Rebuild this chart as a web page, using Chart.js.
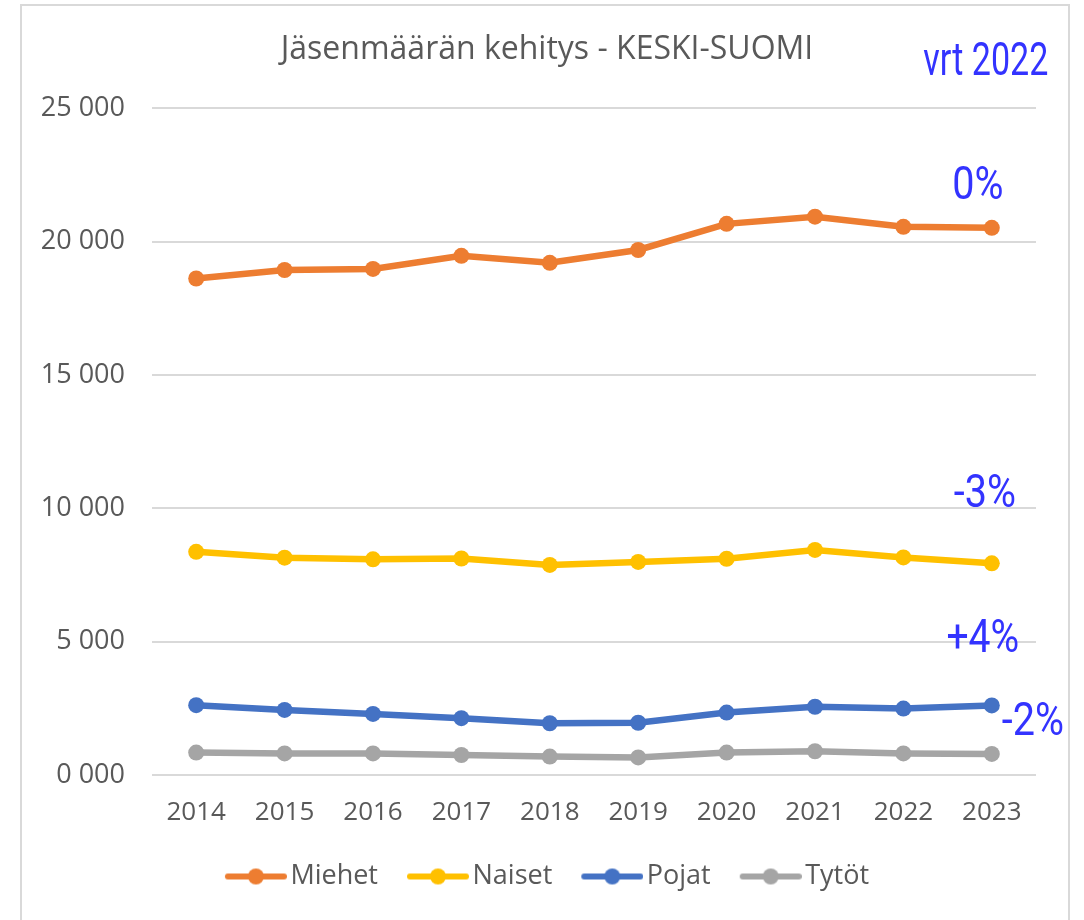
<!DOCTYPE html>
<html lang="fi">
<head>
    <meta charset="UTF-8">
    <title>Jäsenmäärän kehitys - KESKI-SUOMI</title>
    <script src="https://cdn.jsdelivr.net/npm/chart.js"></script>
    <style>
        body { margin: 0; background: #fff; }
        #frame {
            position: absolute; left: 20px; top: 4px;
            width: 1046px; height: 940px;
            border: 2px solid #d9d9d9; border-bottom: none;
        }
        #box { position: relative; width: 1046px; height: 914px; }
    </style>
</head>
<body>
    <div id="frame"><div id="box"><canvas id="membersChart"></canvas></div></div>

    <script>
        // values
        const years = ['2014', '2015', '2016', '2017', '2018', '2019', '2020', '2021', '2022', '2023'];
        const miehet = [18620, 18940, 18980, 19470, 19210, 19690, 20670, 20940, 20560, 20520];
        const naiset = [8370, 8150, 8090, 8120, 7880, 7990, 8110, 8440, 8160, 7940];
        const pojat = [2620, 2440, 2290, 2130, 1940, 1960, 2340, 2560, 2490, 2610];
        const tytot = [840, 810, 810, 750, 690, 660, 840, 890, 810, 790];
        const changeTexts = ['vrt 2022', '0%', '-3%', '+4%', '-2%'];

        const grey = '#595959';

        // legend marker: short line with a dot, pushed to the right of its canvas
        function legendMarker(color) {
            const c = document.createElement('canvas');
            c.width = 72; c.height = 18;
            const g = c.getContext('2d');
            g.strokeStyle = color; g.lineWidth = 6; g.lineCap = 'round';
            g.beginPath(); g.moveTo(13, 9); g.lineTo(69, 9); g.stroke();
            g.fillStyle = color;
            g.beginPath(); g.arc(41, 9, 8, 0, Math.PI * 2); g.fill();
            return c;
        }

        // blue change labels, placed relative to the last year on the x axis
        const changeNotes = {
            id: 'changeNotes',
            afterDatasetsDraw(chart, args, opts) {
                const ctx = chart.ctx;
                const xs = chart.scales.x, ys = chart.scales.y;
                const baseX = xs.getPixelForValue(years.length - 1);
                ctx.save();
                ctx.fillStyle = '#3333ff';
                ctx.font = '46px Roboto';
                ctx.textAlign = 'center';
                ctx.textBaseline = 'alphabetic';
                opts.spots.forEach((s, i) => {
                    ctx.save();
                    ctx.translate(baseX + s.dx, ys.getPixelForValue(s.at));
                    ctx.scale(s.sx, 1);
                    ctx.fillText(changeTexts[i], 0, 0);
                    ctx.restore();
                });
                ctx.restore();
            }
        };

        function series(label, data, color) {
            return {
                label: label,
                data: data,
                borderColor: color,
                backgroundColor: color,
                borderWidth: 6.5,
                pointRadius: 8,
                pointHoverRadius: 8,
                pointBorderWidth: 0,
                tension: 0,
                markerImg: legendMarker(color)
            };
        }

        const ctx = document.getElementById('membersChart').getContext('2d');
        new Chart(ctx, {
            type: 'line',
            data: {
                labels: years,
                datasets: [
                    series('Miehet', miehet, '#ed7d31'),
                    series('Naiset', naiset, '#ffc000'),
                    series('Pojat', pojat, '#4472c4'),
                    series('Tytöt', tytot, '#a5a5a5')
                ]
            },
            options: {
                responsive: true,
                maintainAspectRatio: false,
                animation: false,
                layout: { padding: { left: 4, right: 0, top: 0, bottom: 20 } },
                scales: {
                    x: {
                        offset: true,
                        afterFit: s => { s.height = 59; },
                        grid: { display: false, drawTicks: false },
                        border: { display: false },
                        ticks: { color: grey, font: { family: 'Open Sans', size: 26 }, padding: 22 }
                    },
                    y: {
                        min: 0,
                        max: 25000,
                        afterFit: s => { s.width = 126; },
                        grid: { color: '#d9d9d9', lineWidth: 2, drawTicks: false },
                        border: { display: false },
                        ticks: {
                            stepSize: 5000,
                            color: grey,
                            padding: 27,
                            font: { family: 'Open Sans', size: 27 },
                            callback: v => Math.floor(v / 1000) + ' ' + String(v % 1000).padStart(3, '0')
                        }
                    },
                    // empty right-hand axis, only keeps space on the right of the plot
                    yRight: {
                        position: 'right',
                        afterFit: s => { s.width = 32; },
                        grid: { display: false, drawTicks: false },
                        border: { display: false },
                        ticks: { display: false }
                    }
                },
                plugins: {
                    title: {
                        display: true,
                        text: 'Jäsenmäärän kehitys - KESKI-SUOMI',
                        color: grey,
                        font: { family: 'Open Sans', size: 32, weight: 'normal' },
                        padding: { top: 25, bottom: 39 }
                    },
                    legend: {
                        position: 'bottom',
                        labels: {
                            color: grey,
                            font: { family: 'Open Sans', size: 27 },
                            usePointStyle: true,
                            pointStyleWidth: 52,
                            padding: 29,
                            generateLabels: chart => chart.data.datasets.map((d, i) => ({
                                text: d.label,
                                fontColor: grey,
                                pointStyle: d.markerImg,
                                lineWidth: 0,
                                strokeStyle: 'transparent',
                                fillStyle: d.backgroundColor,
                                datasetIndex: i,
                                hidden: false
                            }))
                        }
                    },
                    tooltip: { enabled: false },
                    changeNotes: {
                        spots: [
                            { at: 26250, dx: -6, sx: 0.74 },
                            { at: 21600, dx: -14, sx: 0.86 },
                            { at: 10050, dx: -7, sx: 0.86 },
                            { at: 4610, dx: -9, sx: 0.85 },
                            { at: 1500, dx: 41, sx: 0.86 }
                        ]
                    }
                }
            },
            plugins: [changeNotes]
        });
    </script>
</body>
</html>
